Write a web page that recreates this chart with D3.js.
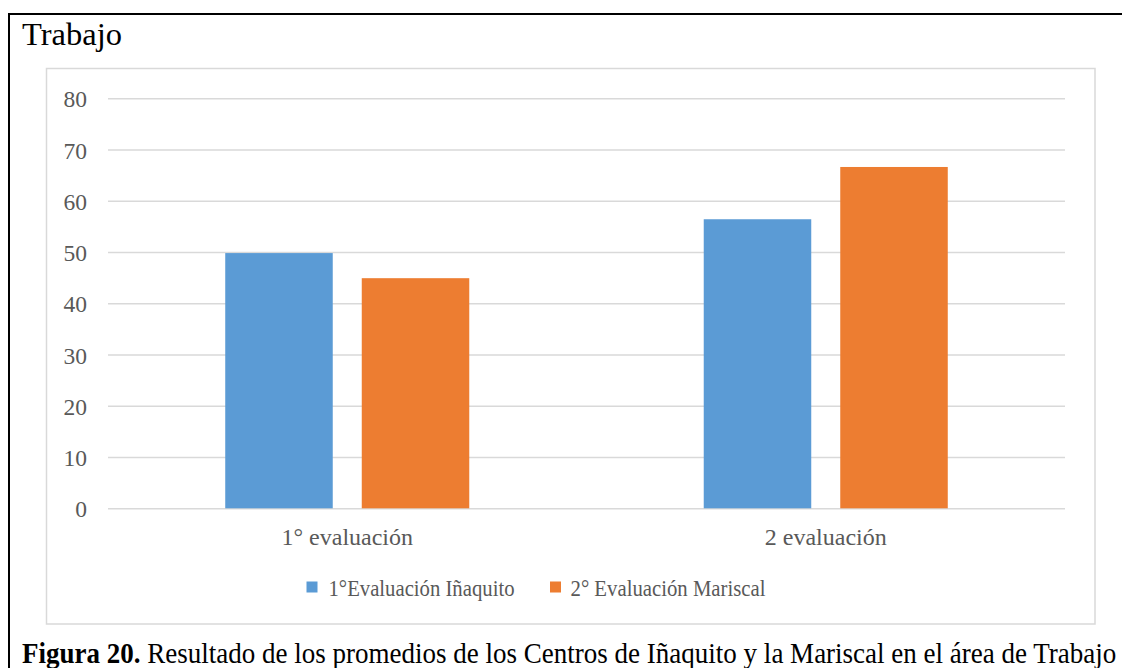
<!DOCTYPE html>
<html>
<head>
<meta charset="utf-8">
<script src="https://cdn.jsdelivr.net/npm/d3@7"></script>
<style>
  html, body { margin: 0; padding: 0; background: #fff; }
  svg { display: block; }
  text { font-family: "Liberation Serif", "Times New Roman", serif; }
</style>
</head>
<body>
<svg id="chart" width="1122" height="668"></svg>
<script>
const categories = ["1° evaluación", "2 evaluación"];
const seriesNames = ["1°Evaluación Iñaquito", "2° Evaluación Mariscal"];
const seriesIñaquito = [49.8, 56.4];
const seriesMariscal = [44.9, 66.6];
const yTicks = [0, 10, 20, 30, 40, 50, 60, 70, 80];
const colors = ["#5B9BD5", "#ED7D31"];
const titleText = "Trabajo";
const captionBold = "Figura 20.";
const captionRest = " Resultado de los promedios de los Centros de Iñaquito y la Mariscal en el área de Trabajo";

const data = categories.map((c, i) => ({ cat: c, values: [seriesIñaquito[i], seriesMariscal[i]] }));

const svg = d3.select("#chart");

// outer black frame (top + left)
svg.append("path")
  .attr("d", "M9,668 L9,14 L1122,14")
  .attr("fill", "none").attr("stroke", "#000").attr("stroke-width", 2);

// chart area frame
svg.append("rect")
  .attr("x", 46.5).attr("y", 68.5).attr("width", 1048.5).attr("height", 555.5)
  .attr("fill", "#fff").attr("stroke", "#d9d9d9").attr("stroke-width", 1.5);

// title
const title = svg.append("text").attr("x", 22).attr("y", 45)
  .attr("font-size", 32.5).attr("fill", "#000").text(titleText);

const plotLeft = 108, plotRight = 1065;
const y = d3.scaleLinear().domain([0, 80]).range([508.3, 98.3]);
const x0 = d3.scaleBand().domain(categories).range([plotLeft, plotRight])
  .paddingInner(0.49).paddingOuter(0.245);
const x1 = d3.scaleBand().domain([0, 1]).range([0, x0.bandwidth()])
  .paddingInner(0.2125).paddingOuter(0);

// gridlines + y labels via axis
const yAxis = d3.axisLeft(y).tickValues(yTicks).tickSize(-(plotRight - plotLeft)).tickPadding(21);
const gY = svg.append("g").attr("transform", `translate(${plotLeft},0)`).call(yAxis);
gY.select(".domain").remove();
gY.selectAll(".tick line").attr("stroke", "#d9d9d9").attr("stroke-width", 1.5);
gY.selectAll(".tick text")
  .attr("font-size", 23.5).attr("fill", "#595959").attr("dy", "0.36em");

// bars
const groups = svg.append("g").selectAll("g").data(data).join("g")
  .attr("transform", d => `translate(${x0(d.cat)},0)`);
groups.selectAll("rect").data(d => d.values.map((v, i) => ({ v, i }))).join("rect")
  .attr("x", d => x1(d.i))
  .attr("width", x1.bandwidth())
  .attr("y", d => y(d.v))
  .attr("height", d => y(0) - y(d.v))
  .attr("fill", d => colors[d.i]);

// x axis labels
const xAxis = d3.axisBottom(x0).tickSize(0).tickPadding(0);
const gX = svg.append("g").attr("transform", `translate(0,${y(0)})`).call(xAxis);
gX.select(".domain").remove();
gX.selectAll(".tick text")
  .attr("font-size", 24).attr("fill", "#595959").attr("y", 37).attr("dy", 0);

// legend
const legendItems = [
  { name: seriesNames[0], color: colors[0], sx: 306.5, tx: 328.5, w: 186 },
  { name: seriesNames[1], color: colors[1], sx: 550, tx: 570.5, w: 195 }
];
const lg = svg.append("g");
legendItems.forEach(it => {
  lg.append("rect").attr("x", it.sx).attr("y", 581.5).attr("width", 11).attr("height", 11).attr("fill", it.color);
  const t = lg.append("text").attr("x", it.tx).attr("y", 595.5).attr("font-size", 23)
    .attr("fill", "#595959").text(it.name);
  t.attr("textLength", it.w).attr("lengthAdjust", "spacingAndGlyphs");
});

// caption
const cap = svg.append("text").attr("x", 0).attr("y", 0).attr("font-size", 30.5).attr("fill", "#000");
cap.append("tspan").attr("font-weight", "bold").text(captionBold);
cap.append("tspan").text(captionRest);
const capLen = cap.node().getComputedTextLength();
const sx = 1095 / capLen;
cap.attr("transform", `translate(22,663) scale(${sx},1)`);
</script>
</body>
</html>
